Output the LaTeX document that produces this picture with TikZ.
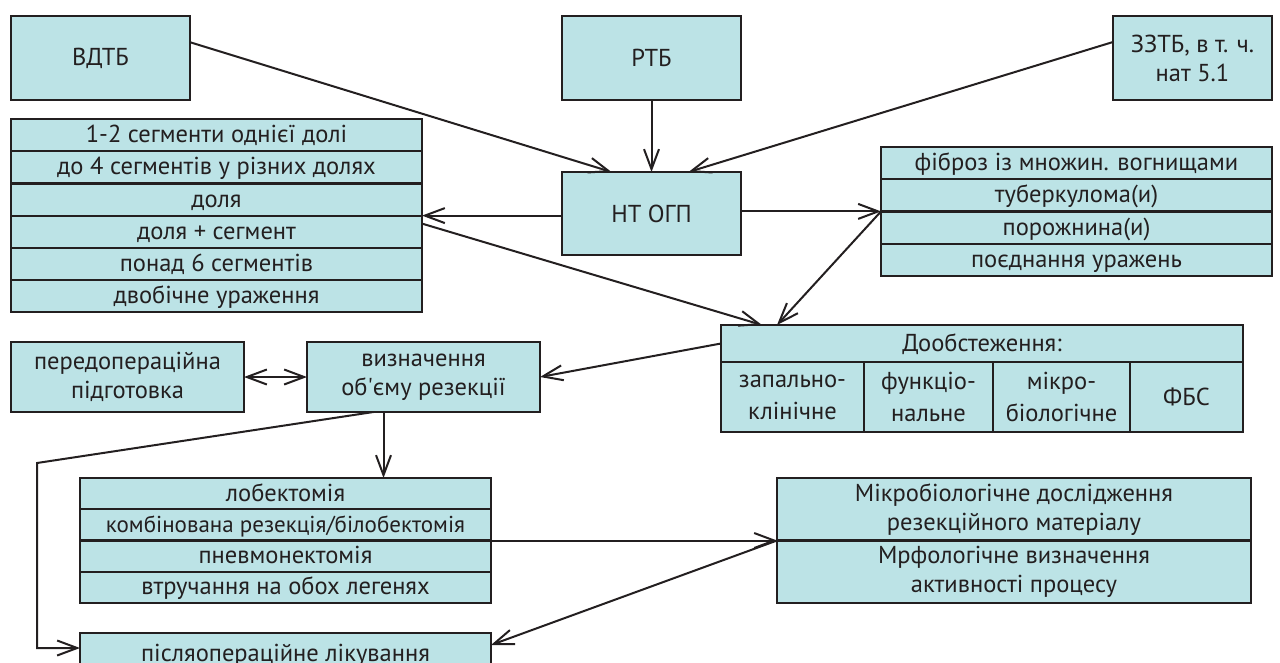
\documentclass[tikz,border=0pt]{standalone}
\usepackage{fontspec}
\setmainfont{PT Sans}
\usetikzlibrary{arrows.meta,positioning,calc}
\definecolor{boxfill}{RGB}{188,227,230}
\definecolor{boxline}{RGB}{35,31,32}
\tikzset{
    flow box/.style={
        draw=boxline,
        line width=2.2pt,
        fill=boxfill,
        align=center,
        inner sep=2pt,
        outer sep=0pt,
        text=boxline,
        font=\fontsize{24.5}{29}\selectfont
    },
    flow row/.style={flow box, text height=19pt, text depth=4pt},
    flow col/.style={flow box, minimum height=70pt, font=\fontsize{24.5}{32}\selectfont},
    flow arrow/.style={-{Straight Barb[length=20pt,width=15pt]}, line width=2pt, draw=boxline},
    flow both/.style={{Straight Barb[length=20pt,width=15pt]}-{Straight Barb[length=20pt,width=15pt]}, line width=2pt, draw=boxline}
}

\begin{document}
\begin{tikzpicture}[x=1pt, y=-1pt]
\useasboundingbox (0,0) rectangle (1280,662);
\clip (0,0) rectangle (1280,662);
% sources
\node[flow box, minimum width=179pt, minimum height=84pt] (vdtb) at (100.5,58) {ВДТБ};
\node[flow box, minimum width=179pt, minimum height=84pt] (rtb) at (651.5,58) {РТБ};
\node[flow box, minimum width=159pt, minimum height=84pt] (zztb) at (1192.5,58) {ЗЗТБ, в т. ч.\\нат 5.1};
\node[flow box, minimum width=179pt, minimum height=83pt] (ntogp) at (651.5,213.5) {НТ ОГП};

% extent of the lesion
\node[flow row, minimum width=411pt, minimum height=32.2pt, anchor=north] (seg1) at (216.5,119) {1-2 сегменти однієї долі};
\node[flow row, minimum width=411pt, minimum height=32.2pt, below=0pt of seg1] (seg4) {до 4 сегментів у різних долях};
\node[flow row, minimum width=411pt, minimum height=32.2pt, below=0pt of seg4] (dolya) {доля};
\node[flow row, minimum width=411pt, minimum height=32.2pt, below=0pt of dolya] (dolyaseg) {доля + сегмент};
\node[flow row, minimum width=411pt, minimum height=32.2pt, below=0pt of dolyaseg] (seg6) {понад 6 сегментів};
\node[flow row, minimum width=411pt, minimum height=32.2pt, below=0pt of seg6] (bilat) {двобічне ураження};

% type of lesion
\node[flow row, minimum width=391pt, minimum height=32.2pt, anchor=north] (fibr) at (1076.5,147) {фіброз із множин. вогнищами};
\node[flow row, minimum width=391pt, minimum height=32.2pt, below=0pt of fibr] (tub) {туберкулома(и)};
\node[flow row, minimum width=391pt, minimum height=32.2pt, below=0pt of tub] (cav) {порожнина(и)};
\node[flow row, minimum width=391pt, minimum height=32.2pt, below=0pt of cav] (comb) {поєднання уражень};

% further examination
\node[flow row, minimum width=522pt, minimum height=37pt, anchor=north] (dobhead) at (982,325) {Дообстеження:};
\node[flow col, minimum width=143pt, anchor=north west] (dobc1) at (721,362) {запально-\\клінічне};
\node[flow col, minimum width=129pt, right=0pt of dobc1] (dobc2) {функціо-\\нальне};
\node[flow col, minimum width=137pt, right=0pt of dobc2] (dobc3) {мікро-\\біологічне};
\node[flow col, minimum width=113pt, right=0pt of dobc3] (dobc4) {ФБС};

% resection planning
\node[flow box, minimum width=233pt, minimum height=70pt] (prep) at (127.5,377) {передопераційна\\підготовка};
\node[flow box, minimum width=233pt, minimum height=70pt] (vyzn) at (423.5,377) {визначення\\об\textquotesingle єму резекції};

% surgery
\node[flow row, minimum width=411pt, minimum height=31.25pt, anchor=north] (lob) at (285.5,478) {лобектомія};
\node[flow row, minimum width=411pt, minimum height=31.25pt, below=0pt of lob, font=\fontsize{23}{29}\selectfont] (komb) {комбінована резекція/білобектомія};
\node[flow row, minimum width=411pt, minimum height=31.25pt, below=0pt of komb] (pnev) {пневмонектомія};
\node[flow row, minimum width=411pt, minimum height=31.25pt, below=0pt of pnev] (both) {втручання на обох легенях};
\node[flow row, minimum width=411pt, minimum height=42pt, anchor=north] (postop) at (285.5,633) {післяопераційне лікування};

% specimen study
\node[flow box, minimum width=474pt, minimum height=62.5pt, anchor=north] (mbio) at (1014,478) {Мікробіологічне дослідження\\резекційного матеріалу};
\node[flow box, minimum width=474pt, minimum height=62.5pt, below=0pt of mbio] (morph) {Мрфологічне визначення\\активності процесу};

% connectors
\draw[flow arrow] (vdtb.10) -- ([xshift=-40pt]ntogp.north);
\draw[flow arrow] (rtb) -- (ntogp);
\draw[flow arrow] ([yshift=16pt]zztb.west) -- ([xshift=37pt]ntogp.north);
\draw[flow arrow] (ntogp.east |- tub.south west) -- (tub.south west);
\draw[flow arrow] (ntogp.west |- dolya.south east) -- (dolya.south east);
\draw[flow arrow] ([yshift=-8pt]dolya.south east) -- ([xshift=41pt]dobhead.north west);
\draw[flow arrow] (tub.south west) -- ([xshift=56pt]dobhead.north west);
\draw[flow arrow] (dobhead.west) -- (vyzn.east);
\draw[flow both] (prep) -- (vyzn);
\coordinate (vyznout) at ([xshift=-40pt]vyzn.south);
\draw[flow arrow] (vyznout) -- (vyznout |- lob.north);
\coordinate (bend) at (37,463);
\draw[flow arrow] ([xshift=-50pt]vyzn.south) -- (bend) |- ([yshift=6pt]postop.west);
\draw[flow arrow] (komb.south east) -- (mbio.south west);
\draw[flow arrow] (mbio.south west) -- ([yshift=9pt]postop.east);
\end{tikzpicture}
\end{document}
